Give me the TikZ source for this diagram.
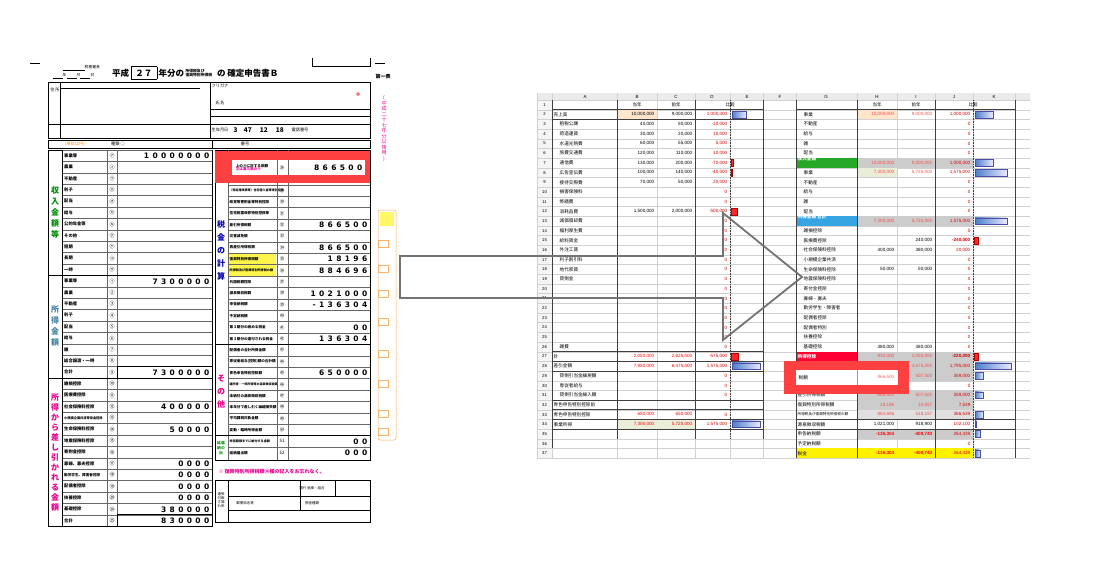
\documentclass[tikz,border=0pt]{standalone}
\usepackage{fontspec}
\setmainfont{Noto Sans CJK JP}
\newfontfamily\fnum[LetterSpace=45]{DejaVu Sans}
\newfontfamily\snum{Liberation Sans}
\begin{document}
\begin{tikzpicture}[x=1pt,y=-1pt,
  frm/.style={draw=black,line width=0.5pt},
  lab/.style={font=\fontsize{4.2}{5}\selectfont,inner sep=0.5pt},
  fv/.style={font=\fnum\bfseries\fontsize{7.5}{8}\selectfont,anchor=east,inner sep=0.5pt},
  sv/.style={font=\snum\fontsize{4.6}{5}\selectfont,anchor=east,inner sep=0.5pt},
  st/.style={font=\fontsize{4.6}{5}\selectfont,anchor=west,inner sep=0.5pt},
  grid/.style={draw=black!18,line width=0.3pt},
  bar/.style={left color=blue!60!cyan!70!black!70,right color=blue!8,draw=blue!50!black!70,line width=0.3pt},
  rbar/.style={fill=red!85,draw=red!70!black,line width=0.3pt}]
\useasboundingbox (0,0) rectangle (1098,576);
\fill[white] (0,0) rectangle (1098,576);
% ================= FORM =================
\draw[line width=1pt] (30,63)--(40,63);
\node[lab,anchor=west,font=\fontsize{3.8}{4}\selectfont] (date1) at (62,68) {\underline{\hspace{22pt}}税務署長};
\node[lab,anchor=west,font=\fontsize{3.8}{4}\selectfont] (date2) at (52,76) {\underline{\hspace{10pt}}年\underline{\hspace{10pt}}月\underline{\hspace{10pt}}日};
\node[anchor=west,font=\bfseries\fontsize{8.5}{9}\selectfont,inner sep=0] (title) at (112,73) {平成\,\fbox{\,２７\,}\,年分の\,\raisebox{1pt}{\parbox{30pt}{\fontsize{3.8}{4}\selectfont 所得税及び\\復興特別所得税}}\,の 確定申告書Ｂ};
\draw[frm] (312,58)--(312,66)--(370,66)--(370,58);
\draw[line width=1pt] (375,63)--(385,63);
\node[lab,font=\bfseries\fontsize{5}{6}\selectfont,anchor=north west] (dai) at (375,73) {第\\一\\表};
\node[lab,text=magenta,anchor=north,font=\fontsize{5}{5.5}\selectfont,align=center] (era) at (384,95) {(\\平\\成\\二\\十\\七\\年\\分\\以\\降\\用\\)};
% header block
\draw[frm] (48,82) rectangle (370,138);
\draw[frm] (210,82)--(210,138);
\draw[frm] (60,88)--(200,88);
\draw[frm] (60,82)--(60,138) (48,124)--(370,124) (210,109)--(370,109) (210,116)--(370,116);
\node[lab] (jusho) at (55,90) {住 所};
\node[lab] (shimei) at (220,103) {氏 名};
\node[lab] (furi) at (220,86) {フリガナ};
\node[lab] (seinen) at (220,130) {生年月日};
\node[font=\bfseries\fontsize{6.5}{7}\selectfont,anchor=west] (birth) at (230,130) {3\quad 47\quad\ 12\quad\ 18};
\node[lab] (tel) at (300,130) {電話番号};
\draw[red!70,fill=red!40] (358,94) circle (1.5);
\draw[frm] (48,140) rectangle (212,148) (212,140) rectangle (370,148);
\node[lab,text=orange] (tan) at (75,144) {(単位は円)};
\node[lab] (shu) at (118,144) {種類 ○};
\node[lab] (ban) at (245,144) {番号};
% left column rows
\draw[line width=0.8pt] (48,150) rectangle (212,526);
\foreach \i/\t/\c/\v in {0/事業等/㋐/10000000,1/農業/㋑/,2/不動産/㋒/,3/利子/㋓/,4/配当/㋔/,5/給与/㋕/,6/公的年金等/㋖/,7/その他/㋗/,8/短期/㋘/,9/長期/㋙/,10/一時/㋚/,11/事業等/①/7300000,12/農業/②/,13/不動産/③/,14/利子/④/,15/配当/⑤/,16/給与/⑥/,17/雑/⑦/,18/総合譲渡・一時/⑧/,19/合計/⑨/7300000,20/雑損控除/⑩/,21/医療費控除/⑪/,22/社会保険料控除/⑫/400000,23/{\fontsize{3.2}{4}\selectfont 小規模企業共済等掛金控除}/⑬/,24/生命保険料控除/⑭/50000,25/地震保険料控除/⑮/,26/寄附金控除/⑯/,27/寡婦、寡夫控除/⑰/0000,28/{\fontsize{3.6}{4}\selectfont 勤労学生、障害者控除}/⑱/0000,29/配偶者控除/⑲/0000,30/扶養控除/⑳/0000,31/基礎控除/㉔/380000,32/合計/㉕/830000}{
  \pgfmathsetmacro\yt{150+\i*11.4}
  \draw[black!60,line width=0.3pt] (62,\yt)--(212,\yt);
  \node[lab,anchor=west,font=\bfseries\fontsize{4.3}{5}\selectfont] (L\i) at (63.5,\yt+5.7) {\t};
  \node[lab,font=\fontsize{5}{5}\selectfont] (C\i) at (112,\yt+5.7) {\c};
  \node[fv] (V\i) at (210,\yt+5.9) {\v};
}
\draw[black!60,line width=0.3pt] (107,150)--(107,526) (117,150)--(117,526);
\draw[line width=0.8pt] (48,275.4)--(212,275.4) (48,378)--(212,378) (117,366.6) rectangle (212,378) (117,514.6) rectangle (212,526);
\draw[line width=0.5pt] (62,150)--(62,526);
\node[text=green!55!black,font=\bfseries\fontsize{8}{11}\selectfont,align=center] (g1) at (55,212) {収\\入\\金\\額\\等};
\node[text=cyan!60!black,font=\bfseries\fontsize{8}{11}\selectfont,align=center] (g2) at (55,326) {所\\得\\金\\額};
\node[text=magenta,font=\bfseries\fontsize{8}{10}\selectfont,align=center] (g3) at (55,452) {所\\得\\か\\ら\\差\\し\\引\\か\\れ\\る\\金\\額};
% right block rows
\draw[line width=0.8pt] (215,150) rectangle (370,460);
\fill[yellow!70] (229,253.2) rectangle (276,275.8);
\foreach \i/\t/\c/\v in {1/配当控除/㉗/,2/{\fontsize{3}{4}\selectfont（特定増改築等）住宅借入金等特別控除}/㉙/,3/政党等寄附金等特別控除/㉚/,4/住宅耐震改修特別控除等/㉛/,5/差引所得税額/㉜/866500,6/災害減免額/㉝/,7/再差引所得税額/㉞/866500,8/復興特別所得税額/㉟/18196,9/{\fontsize{3.1}{4}\selectfont 所得税及び復興特別所得税の額}/㊱/884696,10/外国税額控除/㊲/,11/源泉徴収税額/㊳/1021000,12/申告納税額/㊴/-136304,13/予定納税額/㊵/,14/第３期分の納める税金/㊶/00,15/第３期分の還付される税金/㊷/136304,16/配偶者の合計所得金額/㊸/,17/専従者給与(控除)額の合計額/㊹/,18/青色申告特別控除額/㊺/650000,19/{\fontsize{3}{4}\selectfont 雑所得・一時所得等の源泉徴収税額}/㊻/,20/未納付の源泉徴収税額/㊼/,21/本年分で差し引く繰越損失額/㊽/,22/平均課税対象金額/㊾/,23/変動・臨時所得金額/㊿/,24/{\fontsize{3.1}{4}\selectfont 申告期限までに納付する金額}/51/00,25/延納届出額/52/000}{
  \pgfmathsetmacro\yt{162+\i*11.4}
  \draw[black!60,line width=0.3pt] (228,\yt)--(370,\yt);
  \node[lab,anchor=west,font=\bfseries\fontsize{3.6}{4}\selectfont] (R\i) at (229,\yt+5.7) {\t};
  \node[lab,font=\fontsize{4.5}{5}\selectfont] (D\i) at (282,\yt+5.7) {\c};
  \node[fv] (W\i) at (368,\yt+5.9) {\v};
}
\draw[black!60,line width=0.3pt] (228,150)--(228,460) (277,150)--(277,460) (288,150)--(288,460);
\draw[line width=0.8pt] (215,344.4)--(370,344.4) (215,435.6)--(370,435.6);
\node[text=blue!70!black,font=\bfseries\fontsize{8}{13}\selectfont,align=center] (g4) at (221,250) {税\\金\\の\\計\\算};
\node[text=magenta,font=\bfseries\fontsize{8}{13}\selectfont,align=center] (g5) at (221,392) {そ\\の\\他};
\node[text=green!60!black,font=\bfseries\fontsize{3.8}{5}\selectfont,align=center] (g6) at (221,448) {延届\\納の\\出};
\node[text=magenta,font=\bfseries\fontsize{5}{6}\selectfont,anchor=west] (note) at (215,472) {※ 復興特別所得税額㊱欄の記入をお忘れなく。};
\draw[frm] (215,480) rectangle (370,522) (228,480)--(228,522) (228,496)--(370,496) (228,510)--(370,510) (300,480)--(300,510) (335,480)--(335,496);
\node[lab,font=\fontsize{3.5}{4}\selectfont,align=center] (kan) at (221,500) {還受\\付取\\さ場\\れ所};
\node[lab,font=\fontsize{3.5}{4}\selectfont] (gin) at (312,488) {銀行 金庫・組合};
\node[lab,font=\fontsize{3.5}{4}\selectfont] (yu) at (245,503) {郵便局名等};
\node[lab,font=\fontsize{3.5}{4}\selectfont] (yo) at (312,503) {預金種類};
% red overlay
\fill[red!75] (215,151) rectangle (370,183);
\fill[white] (232,160) rectangle (365,175);
\node[lab,font=\bfseries\fontsize{3.6}{4}\selectfont,align=left] (ue) at (252,167.5) {上の⑨に対する税額\\[-1pt]{\color{magenta}又は第三表の⑨}};
\draw[black!60,line width=0.3pt] (277,160)--(277,175) (288,160)--(288,175);
\node[lab,font=\fontsize{4.5}{5}\selectfont] (c26) at (282,167.5) {㉖};
\node[fv] (W0b) at (363,167.5) {866500};
% orange side strip
\draw[orange!60,line width=0.5pt,rounded corners=2pt] (378,210) rectangle (396,440);
\fill[yellow!60] (380,212) rectangle (394,226);
\foreach \yy in {240,265,290,318,350,380,410,428}{\draw[orange!60] (378,\yy) rectangle (388,\yy+7);}
% ================= SPREADSHEET =================
\fill[black!8] (537,93) rectangle (1030,100);
\fill[black!4] (537,100) rectangle (552,458);
\foreach \r in {1,...,38}{\pgfmathsetmacro\yt{100+(\r-1)*9.68}\draw[grid] (537,\yt)--(1030,\yt);}
\foreach \x in {537,552,617,657,695,730,763,796,857,897,935,973,1015}{\draw[grid] (\x,93)--(\x,458);}
\foreach \x/\l in {585/A,637/B,676/C,712/D,747/E,780/F,826/G,877/H,916/I,954/J,994/K}{\node[lab,font=\snum\fontsize{4.5}{5}\selectfont] at (\x,96.5) {\l};}
\foreach \r in {1,...,37}{\pgfmathsetmacro\yc{100+(\r-1)*9.68+4.84}\node[lab,font=\snum\fontsize{4.2}{5}\selectfont] at (544.5,\yc) {\r};}
% fills
\def\cell#1#2#3#4{\fill[#4] (#1,{100+(#3-1)*9.68}) rectangle (#2,{100+#3*9.68});}
\cell{617}{657}{2}{orange!20}
\cell{617}{695}{34}{green!12!olive!15}
\cell{857}{897}{2}{orange!20}
\cell{796}{857}{7}{green!60!black!85}
\cell{857}{973}{7}{black!20}
\cell{857}{897}{8}{green!12!olive!15}
\cell{796}{857}{13}{cyan!80!blue!80}
\cell{857}{973}{13}{black!20}
\cell{796}{857}{27}{red!80!magenta}
\cell{857}{973}{27}{black!20}
\cell{857}{973}{28}{black!20}
\cell{857}{973}{29}{black!20}
\cell{857}{973}{31}{black!20}
\cell{857}{973}{32}{black!20}
\cell{857}{973}{33}{black!12}
\cell{857}{973}{35}{black!20}
\cell{796}{973}{37}{yellow}
% dark borders
\draw[black!75,line width=0.6pt] (552,100)--(552,448) (617,100)--(617,438.7) (695,100)--(695,438.7) (763,100)--(763,438.7);
\draw[black!75,line width=0.6pt,densely dotted] (730,100)--(730,438.7);
\draw[black!75,line width=0.6pt] (552,109.7)--(763,109.7) (552,119.4)--(763,119.4) (552,351.7)--(763,351.7) (552,361.4)--(763,361.4) (552,371)--(763,371) (552,400)--(763,400) (552,409.7)--(763,409.7) (552,419.4)--(763,419.4) (552,429)--(763,429);
\draw[black!75,line width=0.6pt] (796,100)--(796,458) (857,100)--(857,458) (935,100)--(935,458) (1015,100)--(1015,458) (796,109.7)--(1015,109.7) (796,419.4)--(1015,419.4) (796,429)--(1015,429);
\draw[black!75,line width=0.6pt,densely dotted] (973,100)--(973,458);
% left sheet texts
\foreach \r/\t/\ind in {2/売上高/0,3/租税公課/1,4/荷造運賃/1,5/水道光熱費/1,6/旅費交通費/1,7/通信費/1,8/広告宣伝費/1,9/接待交際費/1,10/損害保険料/1,11/修繕費/1,12/消耗品費/1,13/減価償却費/1,14/福利厚生費/1,15/給料賃金/1,16/外注工賃/1,17/利子割引料/1,18/地代家賃/1,19/貸倒金/1,26/雑費/1,27/計/0,28/差引金額/0,29/貸倒引当金繰戻額/1,30/専従者給与/1,31/貸倒引当金繰入額/1,32/青色申告特別控除前/0,33/青色申告特別控除/0,34/事業所得/0}{
  \pgfmathsetmacro\yc{100+(\r-1)*9.68+4.84}
  \node[st] at (553+\ind*6,\yc) {\t};}
\foreach \r/\b/\c/\d in {2/{10,000,000}/{9,000,000}/{1,000,000},3/{40,000}/{50,000}/{-10,000},4/{30,000}/{20,000}/{10,000},5/{60,000}/{55,000}/{5,000},6/{120,000}/{110,000}/{10,000},7/{130,000}/{200,000}/{-70,000},8/{100,000}/{140,000}/{-40,000},9/{70,000}/{50,000}/{20,000},10///0,11///0,12/{1,500,000}/{2,000,000}/{-500,000},13///0,14///0,15///0,16///0,17///0,18///0,19///0,20///0,21///0,22///0,23///0,24///0,25///0,26///0,27/{\color{red}2,050,000}/{\color{red}2,625,000}/{-575,000},28/{\color{red}7,950,000}/{\color{red}6,375,000}/{1,575,000},29///0,30///0,31///0,33/{\color{red}650,000}/{\color{red}650,000}/0,34/{\color{red}7,300,000}/{\color{red}5,725,000}/{1,575,000}}{
  \pgfmathsetmacro\yc{100+(\r-1)*9.68+4.84}
  \node[sv] at (655,\yc) {\b};
  \node[sv] at (693,\yc) {\c};
  \node[sv,text=red!85!black] at (728,\yc) {\d};}
\node[lab,font=\fontsize{4.5}{5}\selectfont] at (637,104.8) {当年};
\node[lab,font=\fontsize{4.5}{5}\selectfont] at (676,104.8) {前年};
\node[lab,font=\fontsize{4.5}{5}\selectfont] at (730,104.8) {比較};
\node[lab,font=\fontsize{4.5}{5}\selectfont] at (877,104.8) {当年};
\node[lab,font=\fontsize{4.5}{5}\selectfont] at (916,104.8) {前年};
\node[lab,font=\fontsize{4.5}{5}\selectfont] at (973,104.8) {比較};
% right sheet texts
\foreach \r/\t/\ind in {2/事業/1,3/不動産/1,4/給与/1,5/雑/1,6/配当/1,8/事業/1,9/不動産/1,10/給与/1,11/雑/1,12/配当/1,14/雑損控除/1,15/医療費控除/1,16/社会保険料控除/1,17/小規模企業共済/1,18/生命保険料控除/1,19/地震保険料控除/1,20/寄付金控除/1,21/寡婦・寡夫/1,22/勤労学生・障害者/1,23/配偶者控除/1,24/配偶者特別/1,25/扶養控除/1,26/基礎控除/1,30/（税額控除）/0,31/差引所得税額/0,32/復興特別所得税額/0,34/源泉徴収税額/0,35/申告納税額/0,36/予定納税額/0,37/税金/0}{
  \pgfmathsetmacro\yc{100+(\r-1)*9.68+4.84}
  \node[st] at (797+\ind*6,\yc) {\t};}
\node[st,text=white,font=\bfseries\fontsize{4.6}{5}\selectfont] at (797,158.9) {収入金額};
\node[st,text=white,font=\bfseries\fontsize{4.6}{5}\selectfont] at (797,217) {所得金額\ 合計};
\node[st,text=white,font=\bfseries\fontsize{4.6}{5}\selectfont] at (797,356.5) {所得控除};
\node[st,font=\fontsize{3.6}{4}\selectfont] at (797,414.6) {所得税及び復興特別所得税の額};
\foreach \r/\h/\i/\j in {2/{\color{red!70}10,000,000}/{\color{red!70}9,000,000}/{1,000,000},3///0,4///0,5///0,6///0,7/{\color{red!70}10,000,000}/{\color{red!70}9,000,000}/{1,000,000},8/{\color{red!70}7,300,000}/{\color{red!70}5,725,000}/{1,575,000},9///0,10///0,11///0,12///0,13/{\color{red!70}7,300,000}/{\color{red!70}5,725,000}/{1,575,000},14///0,15//{240,000}/{\bfseries -240,000},16/{400,000}/{380,000}/{20,000},17///0,18/{50,000}/{50,000}/0,19///0,20///0,21///0,22///0,23///0,24///0,25///0,26/{380,000}/{380,000}/0,27/{\color{red!70}830,000}/{\color{red!70}1,050,000}/{\bfseries -220,000},28/{\color{red!70}6,470,000}/{\color{red!70}4,675,000}/{1,795,000},29/{\color{red!70}866,500}/{\color{red!70}507,500}/{359,000},30///0,31/{\color{red!70}866,500}/{\color{red!70}507,500}/{359,000},32/{\color{red!70}18,196}/{\color{red!70}10,657}/{7,539},33/{\color{red!70}884,696}/{\color{red!70}518,157}/{366,539},34/{1,021,000}/{918,900}/{102,100},35/{\color{red}\bfseries -136,304}/{\color{red}\bfseries -400,743}/{264,439},36///0,37/{\color{red}\bfseries -136,304}/{\color{red}\bfseries -400,743}/{264,439}}{
  \pgfmathsetmacro\yc{100+(\r-1)*9.68+4.84}
  \node[sv] at (895,\yc) {\h};
  \node[sv] at (933,\yc) {\i};
  \node[sv,text=red!85!black] at (971,\yc) {\j};}
% data bars
\foreach \x/\r/\w in {732/2/14,732/28/28,732/34/28,975/2/18,975/7/18,975/8/32,975/13/32,975/28/36,975/29/8,975/31/8,975/33/8,975/34/1.5,975/35/5,975/37/5}{
  \pgfmathsetmacro\yt{100+(\r-1)*9.68}
  \fill[bar] (\x,\yt+1.5) rectangle (\x+\w,\yt+8.2);}
\foreach \x/\r/\w in {731/7/2,731/8/1.5,731/12/6,731/27/7,974/15/4,974/27/4}{
  \pgfmathsetmacro\yt{100+(\r-1)*9.68}
  \fill[rbar] (\x,\yt+1.5) rectangle (\x+\w,\yt+8.2);}
% red box on sheet
\fill[red!75] (784,361) rectangle (909,394);
\fill[white] (796,370) rectangle (898,385);
\draw[black!40,line width=0.3pt] (857,370)--(857,385);
\node[st] (zei) at (798,377.5) {税額};
\node[sv,text=red!60] (zv) at (895,377.5) {866,500};
% big arrow
\draw[black!55,line width=1.8pt,line join=miter] (400,256)--(723,256)--(723,213)--(802,277)--(723,340)--(723,298)--(400,298)--cycle;
\end{tikzpicture}
\end{document}
